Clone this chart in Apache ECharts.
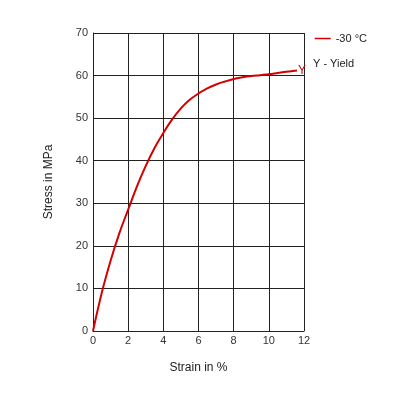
<!DOCTYPE html>
<html><head><meta charset="utf-8">
<script src="https://cdn.jsdelivr.net/npm/echarts@6/dist/echarts.min.js"></script>
<style>html,body{margin:0;padding:0;background:#fff}#c{width:420px;height:410px}</style>
</head><body><div id="c"></div>
<script>
const strain = [0,0.5,1,1.5,2,2.5,3,3.5,4,4.5,5,5.5,6,6.5,7,7.5,8,8.5,9,9.5,10,10.5,11,11.6];
const stress = [0,9,16.5,23,28.5,34,38.8,43,46.5,49.7,52.3,54.3,55.8,57,57.9,58.6,59.2,59.6,59.9,60.1,60.3,60.6,60.9,61.2];
const seriesName = '-30 °C';
const yieldNote = 'Y - Yield';
const yieldMark = 'Y';

const data = strain.map((x,i)=>[x, stress[i]]);

const chart = echarts.init(document.getElementById('c'));
const font = 'Liberation Sans, Arial, sans-serif';
chart.setOption({
  animation:false,
  textStyle:{fontFamily:font},
  grid:{left:93, right:116, top:33, bottom:79},
  legend:{data:[seriesName], right:48, top:28, itemWidth:16, itemHeight:1.5, icon:'rect', itemGap:10,
    textStyle:{fontSize:11, color:'#222', fontFamily:font}},
  graphic:[{type:'text', left:313, top:58, style:{text:yieldNote, fontSize:11, fill:'#222', fontFamily:font}}],
  xAxis:{type:'value', min:0, max:12, interval:2, name:'Strain in %', nameLocation:'middle', nameGap:31,
    nameTextStyle:{fontSize:12, color:'#222'},
    axisLine:{lineStyle:{color:'#222'}}, axisTick:{show:false},
    axisLabel:{color:'#333', fontSize:11, margin:4},
    splitLine:{show:true, lineStyle:{color:'#222', width:1}}},
  yAxis:{type:'value', min:0, max:70, interval:10, name:'Stress in MPa', nameLocation:'middle', nameGap:38,
    nameTextStyle:{fontSize:12, color:'#222'},
    axisLine:{show:true, lineStyle:{color:'#222'}}, axisTick:{show:false},
    axisLabel:{color:'#333', fontSize:11, margin:5},
    splitLine:{show:true, lineStyle:{color:'#222', width:1}}},
  series:[{name:seriesName, type:'line', smooth:0.4, showSymbol:false, symbol:'none',
    lineStyle:{color:'#d40000', width:2}, itemStyle:{color:'#d40000'},
    endLabel:{show:true, formatter:yieldMark, distance:1, color:'#d40000', fontSize:12, fontFamily:font},
    data:data}]
});
</script></body></html>
